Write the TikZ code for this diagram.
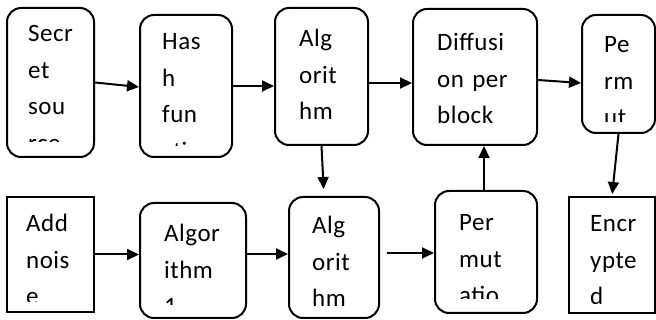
\documentclass[tikz,border=0pt]{standalone}
\usepackage{fontspec}
\setmainfont{Carlito}
\usetikzlibrary{arrows.meta}
\tikzset{
blk/.style={draw, line width=2pt, rounded corners=14pt, inner sep=0pt}, % rounded text box
sqblk/.style={draw, line width=2pt, inner sep=0pt}, % plain text box
txt/.style={anchor=base west, inner sep=0pt, text width=110pt, align=left,
  font=\fontsize{25}{36.5}\selectfont\addfontfeature{LetterSpace=2}},
flow/.style={line width=2pt, -{Triangle[length=12pt,width=11pt]}}, % connector
}

\begin{document}
\begin{tikzpicture}[x=1pt, y=-1pt]
  \path[fill=white, use as bounding box] (0,0) rectangle (656,320);

  % top row
  \node[blk, minimum width=87pt, minimum height=149pt] (src) at (50.5,82.5) {};
  \node[blk, minimum width=92pt, minimum height=142pt] (hash) at (186,86) {};
  \node[blk, minimum width=93pt, minimum height=137pt] (alg1) at (321.5,76.5) {};
  \node[blk, minimum width=124pt, minimum height=136pt] (diff) at (475,77) {};
  \node[blk, minimum width=73pt, minimum height=118pt] (perm1) at (618.5,74) {};

  % bottom row
  \node[sqblk, minimum width=87pt, minimum height=115pt] (noise) at (50.5,254.5) {};
  \node[blk, minimum width=106pt, minimum height=115pt] (alg2) at (193,260.5) {};
  \node[blk, minimum width=90pt, minimum height=121pt] (alg3) at (334,257.5) {};
  \node[blk, minimum width=102pt, minimum height=122pt] (perm2) at (486,252) {};
  \node[sqblk, minimum width=86pt, minimum height=116pt] (enc) at (612,255) {};

  % box texts, cut off at the lower margin
  \begin{scope}
    \clip (src.north west) rectangle ([yshift=16pt]src.south east);
    \node[txt] (srcT) at ([xshift=22pt,yshift=-35pt]src.north west) {Secr\\et\\sou\\rce};
  \end{scope}
  \begin{scope}
    \clip (hash.north west) rectangle ([yshift=12pt]hash.south east);
    \node[txt] (hashT) at ([xshift=23pt,yshift=-36pt]hash.north west) {Has\\h\\fun\\ctio};
  \end{scope}
  \begin{scope}
    \clip (alg1.north west) rectangle ([yshift=12pt]alg1.south east);
    \node[txt] (alg1T) at ([xshift=25pt,yshift=-40pt]alg1.north west) {Alg\\orit\\hm};
  \end{scope}
  \begin{scope}
    \clip (diff.north west) rectangle ([yshift=12pt]diff.south east);
    \node[txt] (diffT) at ([xshift=25pt,yshift=-43pt]diff.north west) {Diffusi\\on per\\block};
  \end{scope}
  \begin{scope}
    \clip (perm1.north west) rectangle ([yshift=12pt]perm1.south east);
    \node[txt] (perm1T) at ([xshift=23pt,yshift=-39pt]perm1.north west) {Pe\\rm\\ut};
  \end{scope}
  \begin{scope}
    \clip (noise.north west) rectangle ([yshift=11pt]noise.south east);
    \node[txt] (noiseT) at ([xshift=20pt,yshift=-36pt]noise.north west) {Add\\nois\\e};
  \end{scope}
  \begin{scope}
    \clip (alg2.north west) rectangle ([yshift=14pt]alg2.south east);
    \node[txt] (alg2T) at ([xshift=25pt,yshift=-40pt]alg2.north west) {Algor\\ithm\\1};
  \end{scope}
  \begin{scope}
    \clip (alg3.north west) rectangle ([yshift=11pt]alg3.south east);
    \node[txt] (alg3T) at ([xshift=24pt,yshift=-38pt]alg3.north west) {Alg\\orit\\hm};
  \end{scope}
  \begin{scope}
    \clip (perm2.north west) rectangle ([yshift=15pt]perm2.south east);
    \node[txt] (perm2T) at ([xshift=25pt,yshift=-41pt]perm2.north west) {Per\\mut\\atio};
  \end{scope}
  \begin{scope}
    \clip (enc.north west) rectangle ([yshift=10pt]enc.south east);
    \node[txt] (encT) at ([xshift=22pt,yshift=-36pt]enc.north west) {Encr\\ypte\\d};
  \end{scope}

  % connectors
  \draw[flow] (src.east) -- ([yshift=-1pt]hash.west);
  \draw[flow] (hash.east) -- (hash.east -| alg1.west);
  \draw[flow] ([yshift=-6.5pt]alg1.east) -- ([yshift=-6.5pt]alg1.east -| diff.west);
  \draw[flow] ([yshift=-3pt]diff.east) -- ([yshift=-9pt]perm1.west);
  \draw[flow, shorten >=7pt] (alg1.south) -- ([xshift=-10pt]alg3.north);
  \draw[flow] ([xshift=-2pt]perm2.north) -- ([xshift=-2pt]perm2.north |- diff.south);
  \draw[flow, shorten >=2pt] (perm1.south) -- (enc.north);
  \draw[flow] (noise.east) -- (noise.east -| alg2.west);
  \draw[flow] ([yshift=6.5pt]alg2.east) -- ([yshift=6.5pt]alg2.east -| alg3.west);
  \draw[flow, shorten <=7pt] ([yshift=4.5pt]alg3.east) -- ([yshift=4.5pt]alg3.east -| perm2.west);
\end{tikzpicture}
\end{document}
